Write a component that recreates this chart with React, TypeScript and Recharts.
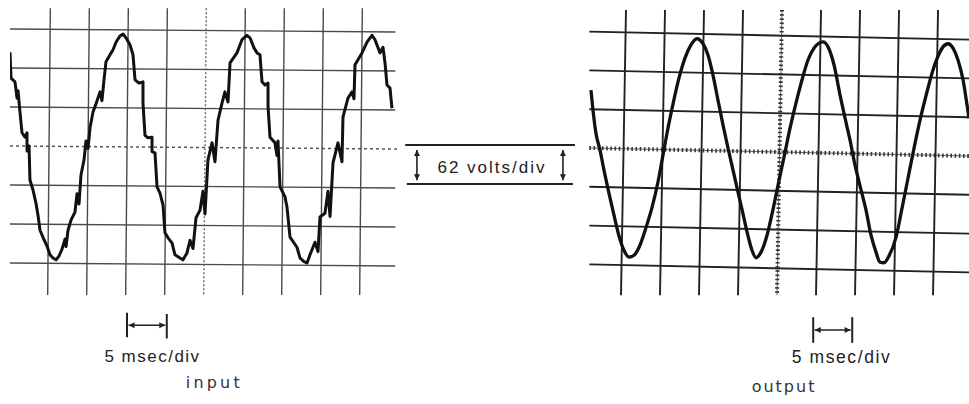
import React from 'react';
import { LineChart, Line, XAxis, YAxis, ReferenceLine, ReferenceDot } from 'recharts';

// ---------- data ----------
// input trace (time in ms, voltage in V)
const inputTimeMs = [
  0, 0.13, 0.64, 0.9, 1.03, 1.28, 1.54, 1.92, 2.18, 2.18, 2.44, 2.56, 2.95, 3.33, 3.59, 3.85, 4.36, 4.74, 5.13, 5.51,
  5.9, 6.28, 6.67, 7.05, 7.18, 7.44, 7.82, 8.33, 8.59, 8.85, 9.1, 9.49, 9.74, 10.0, 10.26, 10.64, 11.03, 11.54, 11.79, 12.05,
  12.31, 12.82, 13.21, 13.59, 14.1, 14.49, 14.87, 15.38, 15.77, 16.03, 16.54, 17.05, 17.05, 17.31, 17.69, 18.21, 18.21, 18.59, 18.85, 19.23,
  19.62, 19.87, 20.26, 20.77, 21.15, 21.79, 22.18, 22.69, 23.08, 23.46, 23.85, 24.36, 24.74, 25.0, 25.38, 25.9, 26.28, 26.67, 27.18, 27.56,
  27.95, 28.21, 29.1, 29.74, 30.38, 30.77, 31.28, 31.67, 32.05, 32.31, 32.69, 33.08, 33.08, 33.33, 33.97, 34.23, 34.36, 34.62, 35.26, 35.51,
  35.9, 36.79, 37.18, 37.69, 38.08, 38.46, 39.1, 39.49, 39.74, 40.38, 40.77, 41.03, 41.41, 42.05, 42.56, 42.69, 43.33, 43.85, 44.1, 44.23,
  45.13, 45.77, 46.41, 46.79, 47.44, 47.82, 48.08, 48.33, 48.72, 48.97,
];
const inputVolts = [
  149, 108, 102, 76, 88, 54, 21, 14, 21, -8, 0, -54, -70, -91, -110, -134, -149, -159, -173, -178,
  -181, -175, -164, -148, -160, -134, -118, -105, -76, -92, -46, -22, 8, -4, 29, 54, 67, 86, 72, 105,
  134, 145, 153, 165, 175, 178, 172, 161, 145, 105, 100, 102, 68, 17, 13, 14, -9, -11, -65, -75,
  -94, -138, -146, -154, -173, -178, -181, -170, -150, -163, -114, -102, -72, -108, -22, 5, -25, 41, 68, 86,
  70, 132, 148, 169, 176, 172, 156, 148, 145, 102, 97, 100, 64, 14, 5, -15, 8, -65, -81, -97,
  -145, -161, -178, -184, -186, -173, -153, -168, -113, -107, -72, -112, -27, 5, -25, 46, 76, 86, 75, 129,
  148, 165, 176, 169, 148, 157, 132, 97, 92, 60,
];

// output trace (time in ms, voltage in V)
const outputTimeMs = [
  0.51, 0.77, 1.15, 1.67, 2.18, 2.82, 3.46, 4.1, 4.74, 5.38, 6.03, 6.79, 7.56, 8.33, 9.1, 9.74, 10.38, 11.03, 11.79, 12.56,
  13.33, 14.1, 14.87, 15.51, 16.15, 16.79, 17.44, 18.08, 18.72, 19.36, 20.0, 20.64, 21.15, 21.67, 22.31, 23.08, 23.72, 24.49, 25.26, 26.03,
  26.79, 27.56, 28.33, 29.1, 29.74, 30.26, 30.9, 31.67, 32.44, 33.08, 33.72, 34.36, 35.0, 35.77, 36.41, 37.05, 37.56, 38.08, 38.72, 39.62,
  40.38, 41.15, 41.92, 42.69, 43.46, 44.23, 45.0, 45.64, 46.28, 46.92, 47.56, 48.21, 48.72, 48.97,
];
const outputVolts = [
  99, 67, 30, 3, -29, -66, -101, -134, -157, -168, -165, -149, -121, -89, -48, -5, 38, 77, 118, 150,
  171, 181, 173, 155, 123, 83, 43, 6, -29, -64, -99, -134, -157, -169, -160, -133, -99, -53, -8, 38,
  78, 115, 147, 166, 174, 176, 168, 139, 91, 54, 19, -21, -54, -93, -133, -160, -176, -177, -166, -136,
  -90, -42, 6, 51, 90, 126, 153, 168, 173, 166, 147, 115, 75, 54,
];

// graticule
const voltsPerDiv = 62;
const msecPerDiv = 5;
const gridDivs = [-3, -2, -1, 1, 2, 3];
const timeDivs = [1, 2, 3, 4, 6, 7, 8, 9];
const centerDiv = 5;

// texts
const scaleText = '62 volts/div';
const timeText = '5 msec/div';
const inputText = 'input';
const outputText = 'output';

// ---------- helpers ----------
const inputData = inputTimeMs.map((t, i) => ({ t, v: inputVolts[i] }));
const outputData = outputTimeMs.map((t, i) => ({ t, v: outputVolts[i] }));

const DoubleArrow = (props: any) => {
  const { x1, y1, x2, y2 } = props;
  const stroke = props.stroke || '#222';
  const dx = x2 - x1;
  const dy = y2 - y1;
  const len = Math.hypot(dx, dy) || 1;
  const ux = dx / len;
  const uy = dy / len;
  const h = 6;
  const w = 3;
  const head = (tx: number, ty: number, ax: number, ay: number) =>
    `${tx},${ty} ${tx - ax * h - ay * w},${ty - ay * h + ax * w} ${tx - ax * h + ay * w},${ty - ay * h - ax * w}`;
  return (
    <g>
      <line x1={x1} y1={y1} x2={x2} y2={y2} stroke={stroke} strokeWidth={1.6} />
      <polygon points={head(x2, y2, ux, uy)} fill={stroke} />
      <polygon points={head(x1, y1, -ux, -uy)} fill={stroke} />
    </g>
  );
};

// graticule centre line: thin line with small cross ticks
const TickedLine = (props: any) => {
  const { x1, y1, x2, y2 } = props;
  const stroke = props.stroke || '#333';
  return (
    <g>
      <line x1={x1} y1={y1} x2={x2} y2={y2} stroke={stroke} strokeWidth={1} strokeOpacity={0.7} />
      <line x1={x1} y1={y1} x2={x2} y2={y2} stroke={stroke} strokeWidth={4} strokeDasharray="1.6 2.6" />
    </g>
  );
};

const textLabel = (value: string, style: any) => (props: any) => {
  const vb = props.viewBox || {};
  const x = (vb.x ?? 0) + (vb.width ?? 0) / 2;
  const y = (vb.y ?? 0) + (vb.height ?? 0) / 2;
  return (
    <text x={x} y={y} textAnchor="middle" {...style}>
      {value}
    </text>
  );
};

const sansText = { fontFamily: '"Liberation Sans", Arial, sans-serif', fill: '#222' };
const lightText = { fontFamily: '"DejaVu Sans", sans-serif', fill: '#333' };

// ---------- input panel ----------
const IN_X: [number, number] = [0, 50];
const IN_Y: [number, number] = [-410.2, 232.1];

function InputPanel() {
  const tilt = 4.8;
  return (
    <LineChart width={390} height={404} margin={{ top: 0, right: 0, bottom: 0, left: 0 }}>
      <XAxis type="number" dataKey="t" domain={IN_X} allowDataOverflow hide />
      <YAxis type="number" dataKey="v" domain={IN_Y} allowDataOverflow hide />
      {gridDivs.map((k) => (
        <ReferenceLine
          key={'h' + k}
          ifOverflow="visible"
          segment={[{ x: 0, y: k * voltsPerDiv }, { x: 49.4, y: k * voltsPerDiv - tilt }]}
          stroke="#4a4a4a"
          strokeWidth={1.4}
        />
      ))}
      <ReferenceLine
        ifOverflow="visible"
        segment={[{ x: 0, y: 0 }, { x: 49.7, y: -tilt }]}
        stroke="#555"
        strokeWidth={1.5}
        strokeDasharray="3 3"
      />
      {timeDivs.map((k) => (
        <ReferenceLine
          key={'v' + k}
          ifOverflow="visible"
          segment={[{ x: k * msecPerDiv + 0.17, y: 219 }, { x: k * msecPerDiv - 0.17, y: -237 }]}
          stroke="#4a4a4a"
          strokeWidth={1.4}
        />
      ))}
      <ReferenceLine
        ifOverflow="visible"
        segment={[{ x: centerDiv * msecPerDiv + 0.17, y: 219 }, { x: centerDiv * msecPerDiv - 0.17, y: -237 }]}
        stroke="#666"
        strokeWidth={1.4}
        strokeDasharray="2 2"
      />
      <Line
        data={inputData}
        dataKey="v"
        type="linear"
        stroke="#111"
        strokeWidth={3}
        strokeLinejoin="round"
        dot={false}
        isAnimationActive={false}
      />
      {/* time scale marker */}
      <ReferenceLine ifOverflow="visible" segment={[{ x: 15, y: -265 }, { x: 15, y: -304 }]} stroke="#222" strokeWidth={2} />
      <ReferenceLine ifOverflow="visible" segment={[{ x: 20.1, y: -267 }, { x: 20.1, y: -306 }]} stroke="#222" strokeWidth={2} />
      <ReferenceLine
        ifOverflow="visible"
        segment={[{ x: 15.2, y: -285 }, { x: 19.9, y: -285 }]}
        stroke="#222"
        shape={DoubleArrow}
      />
      <ReferenceDot
        x={18.27}
        y={-343.4}
        r={0}
        fill="none"
        stroke="none"
        ifOverflow="visible"
        label={textLabel(timeText, { ...sansText, fontSize: 17, letterSpacing: 1.5 })}
      />
      <ReferenceDot
        x={26.2}
        y={-384.7}
        r={0}
        fill="none"
        stroke="none"
        ifOverflow="visible"
        label={textLabel(inputText, { ...lightText, fontSize: 16, letterSpacing: 3.2 })}
      />
    </LineChart>
  );
}

// ---------- output panel (also holds the volts/div annotation) ----------
const OUT_X: [number, number] = [-23.97, 48.97];
const OUT_Y: [number, number] = [-402.7, 242.9];

function OutputPanel() {
  const tilt = 6.4;
  return (
    <LineChart width={569} height={404} margin={{ top: 0, right: 0, bottom: 0, left: 0 }}>
      <XAxis type="number" dataKey="t" domain={OUT_X} allowDataOverflow hide />
      <YAxis type="number" dataKey="v" domain={OUT_Y} allowDataOverflow hide />
      {gridDivs.map((k) => (
        <ReferenceLine
          key={'h' + k}
          ifOverflow="visible"
          segment={[{ x: 0.3, y: k * voltsPerDiv + tilt }, { x: 48.97, y: k * voltsPerDiv - tilt }]}
          stroke="#222"
          strokeWidth={1.9}
        />
      ))}
      <ReferenceLine
        ifOverflow="visible"
        segment={[{ x: 0.3, y: tilt }, { x: 48.97, y: -tilt }]}
        stroke="#333"
        shape={TickedLine}
      />
      {timeDivs.map((k) => (
        <ReferenceLine
          key={'v' + k}
          ifOverflow="visible"
          segment={[{ x: k * msecPerDiv, y: 227 }, { x: k * msecPerDiv - 0.64, y: -229 }]}
          stroke="#222"
          strokeWidth={1.9}
        />
      ))}
      <ReferenceLine
        ifOverflow="visible"
        segment={[{ x: centerDiv * msecPerDiv, y: 227 }, { x: centerDiv * msecPerDiv - 0.64, y: -229 }]}
        stroke="#333"
        shape={TickedLine}
      />
      <Line
        data={outputData}
        dataKey="v"
        type="monotone"
        stroke="#111"
        strokeWidth={3.3}
        dot={false}
        isAnimationActive={false}
      />
      {/* volts per division annotation */}
      <ReferenceLine ifOverflow="visible" segment={[{ x: -23.3, y: 11 }, { x: -1.54, y: 11 }]} stroke="#222" strokeWidth={2} />
      <ReferenceLine ifOverflow="visible" segment={[{ x: -23.1, y: -51 }, { x: -1.8, y: -51 }]} stroke="#222" strokeWidth={2} />
      <ReferenceLine ifOverflow="visible" segment={[{ x: -21.8, y: 3 }, { x: -21.8, y: -45 }]} stroke="#222" shape={DoubleArrow} />
      <ReferenceLine ifOverflow="visible" segment={[{ x: -3.08, y: 3 }, { x: -3.08, y: -45 }]} stroke="#222" shape={DoubleArrow} />
      <ReferenceDot
        x={-12.18}
        y={-33.6}
        r={0}
        fill="none"
        stroke="none"
        ifOverflow="visible"
        label={textLabel(scaleText, { ...sansText, fontSize: 17, letterSpacing: 2, fill: '#222' })}
      />
      {/* time scale marker */}
      <ReferenceLine ifOverflow="visible" segment={[{ x: 29, y: -264 }, { x: 29, y: -305 }]} stroke="#222" strokeWidth={2} />
      <ReferenceLine ifOverflow="visible" segment={[{ x: 34, y: -264 }, { x: 34, y: -305 }]} stroke="#222" strokeWidth={2} />
      <ReferenceLine
        ifOverflow="visible"
        segment={[{ x: 29.2, y: -284.4 }, { x: 33.8, y: -284.4 }]}
        stroke="#222"
        shape={DoubleArrow}
      />
      <ReferenceDot
        x={32.63}
        y={-337.2}
        r={0}
        fill="none"
        stroke="none"
        ifOverflow="visible"
        label={textLabel(timeText, { ...sansText, fontSize: 17.5, letterSpacing: 1.6 })}
      />
      <ReferenceDot
        x={25.26}
        y={-383.5}
        r={0}
        fill="none"
        stroke="none"
        ifOverflow="visible"
        label={textLabel(outputText, { ...lightText, fontSize: 16, letterSpacing: 2 })}
      />
    </LineChart>
  );
}

export default function App() {
  return (
    <div style={{ position: 'absolute', left: 0, top: 0, width: 969, height: 404, background: '#fff', overflow: 'hidden' }}>
      <div style={{ position: 'absolute', left: 10, top: 0 }}>
        <InputPanel />
      </div>
      <div style={{ position: 'absolute', left: 400, top: 0 }}>
        <OutputPanel />
      </div>
    </div>
  );
}
